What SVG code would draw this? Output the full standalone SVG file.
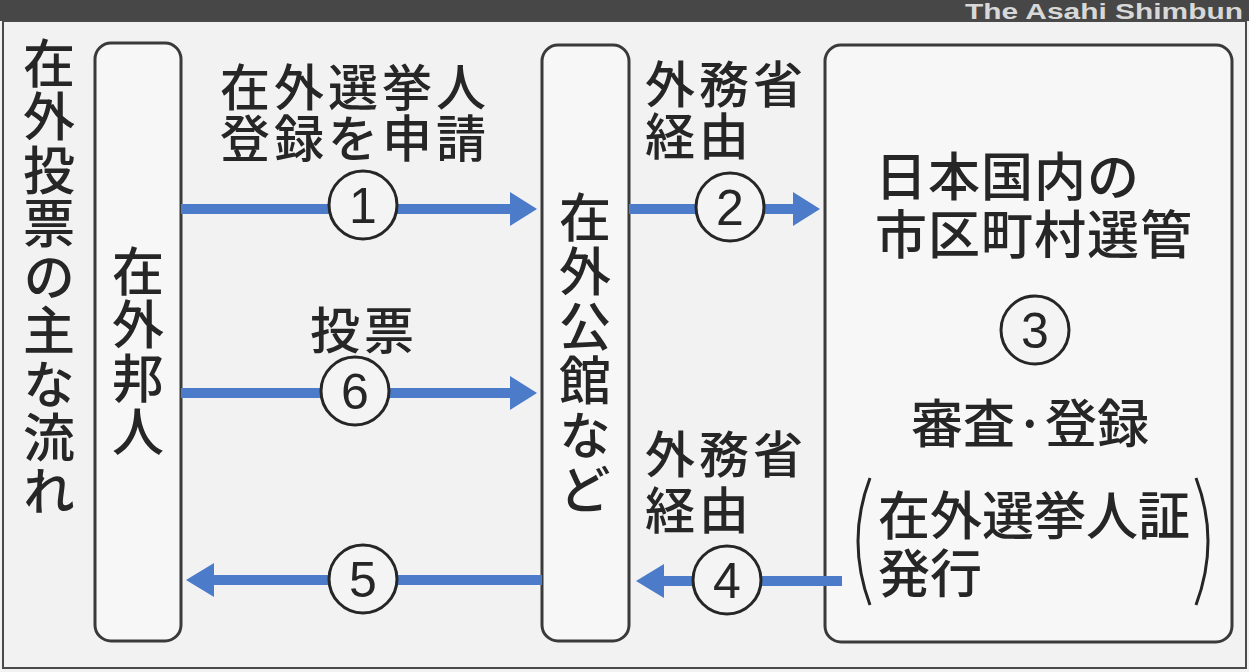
<svg xmlns="http://www.w3.org/2000/svg" width="1249" height="672" viewBox="0 0 1249 672">
<defs>
<style>
.t{font-family:"Noto Sans CJK JP","Noto Sans CJK SC",sans-serif;font-size:50px;letter-spacing:4px;fill:#262626;font-weight:500}
.v{font-family:"Noto Sans CJK JP","Noto Sans CJK SC",sans-serif;font-size:52px;fill:#262626;font-weight:500;writing-mode:vertical-rl}
.b{font-family:"Noto Sans CJK JP","Noto Sans CJK SC",sans-serif;font-size:52px;fill:#262626;font-weight:500}
.n{font-family:"Liberation Sans",Arial,sans-serif;font-size:50px;fill:#262626;text-anchor:middle}
.box{fill:#f7f7f7;stroke:#3a3a3a;stroke-width:3}
.arr{stroke:#4b7bc9;stroke-width:10;fill:none}
.head{fill:#4b7bc9}
.c{fill:#f4f4f4;stroke:#262626;stroke-width:3}
</style>
</defs>
<rect x="0" y="0" width="1249" height="672" fill="#f2f2f2"/>
<rect x="0" y="0" width="1249" height="21" fill="#474747"/>
<text x="965" y="19" font-family="Liberation Sans,Arial,sans-serif" font-size="22" font-weight="bold" fill="#d8d8d8" textLength="278" lengthAdjust="spacingAndGlyphs">The Asahi Shimbun</text>
<rect x="3" y="21" width="1243" height="647" fill="none" stroke="#4a4a4a" stroke-width="2"/>

<g id="title">
<text class="v" x="49" y="37" letter-spacing="1.5">在外投票の主な流れ</text>
</g>

<g id="node-zaigai-houjin">
<rect class="box" x="95" y="43" width="86" height="598" rx="16"/>
<text class="v" x="138" y="245" letter-spacing="1.5">在外邦人</text>
</g>

<g id="node-zaigai-koukan">
<rect class="box" x="542" y="45" width="87" height="596" rx="16"/>
<text class="v" x="585" y="191" letter-spacing="2.5">在外公館など</text>
</g>

<g id="node-senkan">
<rect class="box" x="825" y="45" width="407" height="597" rx="16"/>
<text class="b" letter-spacing="1"><tspan x="875" y="196">日本国内の</tspan><tspan x="875" y="254">市区町村選管</tspan></text>
<circle class="c" cx="1035" cy="330" r="34"/>
<text class="n" x="1035" y="348">3</text>
<text class="b" x="1030" y="443" text-anchor="middle">審査·登録</text>
<path d="M870,478 Q846,541 870,605" fill="none" stroke="#262626" stroke-width="3"/>
<path d="M1196,478 Q1220,541 1196,605" fill="none" stroke="#262626" stroke-width="3"/>
<text class="b"><tspan x="878" y="535">在外選挙人証</tspan><tspan x="878" y="593">発行</tspan></text>
</g>

<g id="connectors">
<line class="arr" x1="181" y1="209" x2="512" y2="209"/>
<polygon class="head" points="510,192 537,209 510,226"/>
<line class="arr" x1="629" y1="209" x2="795" y2="209"/>
<polygon class="head" points="793,192 820,209 793,226"/>
<line class="arr" x1="181" y1="393" x2="512" y2="393"/>
<polygon class="head" points="510,376 537,393 510,410"/>
<line class="arr" x1="842" y1="581" x2="662" y2="581"/>
<polygon class="head" points="664,564 636,581 664,598"/>
<line class="arr" x1="542" y1="580" x2="212" y2="580"/>
<polygon class="head" points="214,563 186,580 214,597"/>
</g>

<g id="label-1">
<text class="t"><tspan x="220" y="106">在外選挙人</tspan><tspan x="220" y="157">登録を申請</tspan></text>
<circle class="c" cx="363" cy="205" r="34"/>
<text class="n" x="363" y="223">1</text>
</g>
<g id="label-2">
<text class="t"><tspan x="645" y="103">外務省</tspan><tspan x="645" y="155">経由</tspan></text>
<circle class="c" cx="730" cy="207" r="34"/>
<text class="n" x="730" y="225">2</text>
</g>
<g id="label-6">
<text class="t" x="310" y="349">投票</text>
<circle class="c" cx="355" cy="391" r="34"/>
<text class="n" x="355" y="409">6</text>
</g>
<g id="label-4">
<text class="t"><tspan x="645" y="473">外務省</tspan><tspan x="645" y="529">経由</tspan></text>
<circle class="c" cx="727" cy="580" r="34"/>
<text class="n" x="727" y="598">4</text>
</g>
<g id="label-5">
<circle class="c" cx="363" cy="579" r="34"/>
<text class="n" x="363" y="597">5</text>
</g>
</svg>
